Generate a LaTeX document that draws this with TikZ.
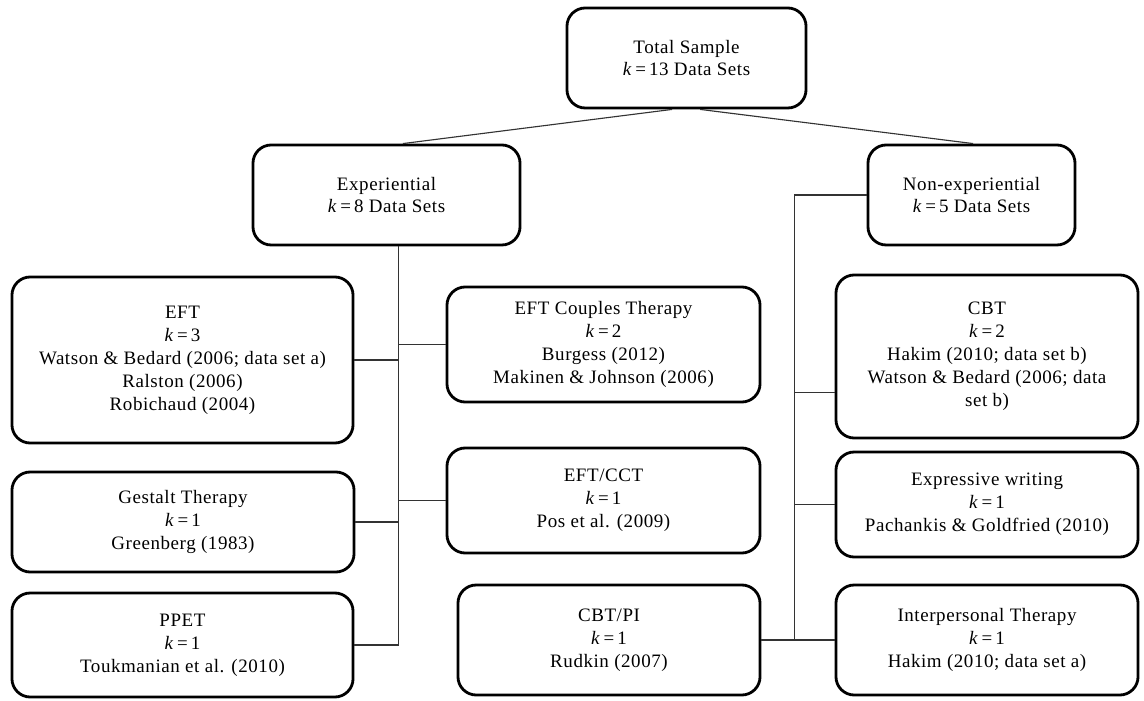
\documentclass[tikz,border=0pt]{standalone}
\usepackage{fontspec}
\setmainfont[LetterSpace=3]{Liberation Serif}
\usepackage{tikz}
\newcommand{\kval}[1]{\textit{k}\,=\,#1}

\begin{document}
\begin{tikzpicture}[x=0.025cm,y=-0.025cm,
    box/.style={draw,line width=2pt,rounded corners=13pt,align=center,inner sep=2pt,
      font=\fontsize{13.5}{16.3}\selectfont},
    link/.style={line width=0.8pt,draw=black!80}]
    \useasboundingbox (0,0) rectangle (1144,701);
    % top levels
    \node[box,minimum width=5.975cm,minimum height=2.5cm] (total) at (686.5,58) {Total Sample\\\kval{13} Data Sets};
    \node[box,minimum width=6.675cm,minimum height=2.5cm] (exper) at (386.5,195) {Experiential\\\kval{8} Data Sets};
    \node[box,minimum width=5.175cm,minimum height=2.5cm] (nonexp) at (971.5,195) {Non-experiential\\\kval{5} Data Sets};
    % experiential treatments
    \node[box,minimum width=8.525cm,minimum height=4.15cm] (eft) at (182.5,360) {EFT\\\kval{3}\\Watson \& Bedard (2006; data set a)\\Ralston (2006)\\Robichaud (2004)};
    \node[box,minimum width=7.825cm,minimum height=2.875cm] (eftc) at (603.5,344.5) {EFT Couples Therapy\\\kval{2}\\Burgess (2012)\\Makinen \& Johnson (2006)};
    \node[box,minimum width=8.55cm,minimum height=2.5cm] (gestalt) at (183,522) {Gestalt Therapy\\\kval{1}\\Greenberg (1983)};
    \node[box,minimum width=7.825cm,minimum height=2.625cm] (eftcct) at (603.5,500.5) {EFT/CCT\\\kval{1}\\Pos et al. (2009)};
    \node[box,minimum width=8.525cm,minimum height=2.6cm] (ppet) at (182.5,645) {PPET\\\kval{1}\\Toukmanian et al. (2010)};
    % non-experiential treatments
    \node[box,minimum width=7.55cm,minimum height=4.075cm] (cbt) at (987,356.5) {CBT\\\kval{2}\\Hakim (2010; data set b)\\Watson \& Bedard (2006; data\\set b)};
    \node[box,minimum width=7.55cm,minimum height=2.625cm] (expr) at (987,504.5) {Expressive writing\\\kval{1}\\Pachankis \& Goldfried (2010)};
    \node[box,minimum width=7.55cm,minimum height=2.75cm] (cbtpi) at (609,640) {CBT/PI\\\kval{1}\\Rudkin (2007)};
    \node[box,minimum width=7.55cm,minimum height=2.75cm] (interp) at (987,640) {Interpersonal Therapy\\\kval{1}\\Hakim (2010; data set a)};

    \draw[link] ([xshift=-0.36cm]total.south) -- ([xshift=0.41cm]exper.north);
    \draw[link] ([xshift=0.34cm]total.south) -- ([xshift=0.04cm]nonexp.north);
    % left trunk
    \coordinate (ltrunk) at ([xshift=0.31cm]exper.south);
    \draw[link] (ltrunk) -- (ltrunk |- ppet.east) -- (ppet.east);
    \draw[link] (eft.east) -- (eft.east -| ltrunk);
    \draw[link] (eftc.west) -- (eftc.west -| ltrunk);
    \draw[link] (gestalt.east) -- (gestalt.east -| ltrunk);
    \draw[link] (eftcct.west) -- (eftcct.west -| ltrunk);
    % right trunk
    \coordinate (rtrunk) at ([xshift=-1.8cm]nonexp.west);
    \draw[link] (nonexp.west) -- (rtrunk) -- (rtrunk |- interp.west);
    \draw[link] ([yshift=-0.91cm]cbt.west) -- ([yshift=-0.91cm]cbt.west -| rtrunk);
    \draw[link] (expr.west) -- (expr.west -| rtrunk);
    \draw[link] (cbtpi.east) -- (interp.west);
\end{tikzpicture}
\end{document}
